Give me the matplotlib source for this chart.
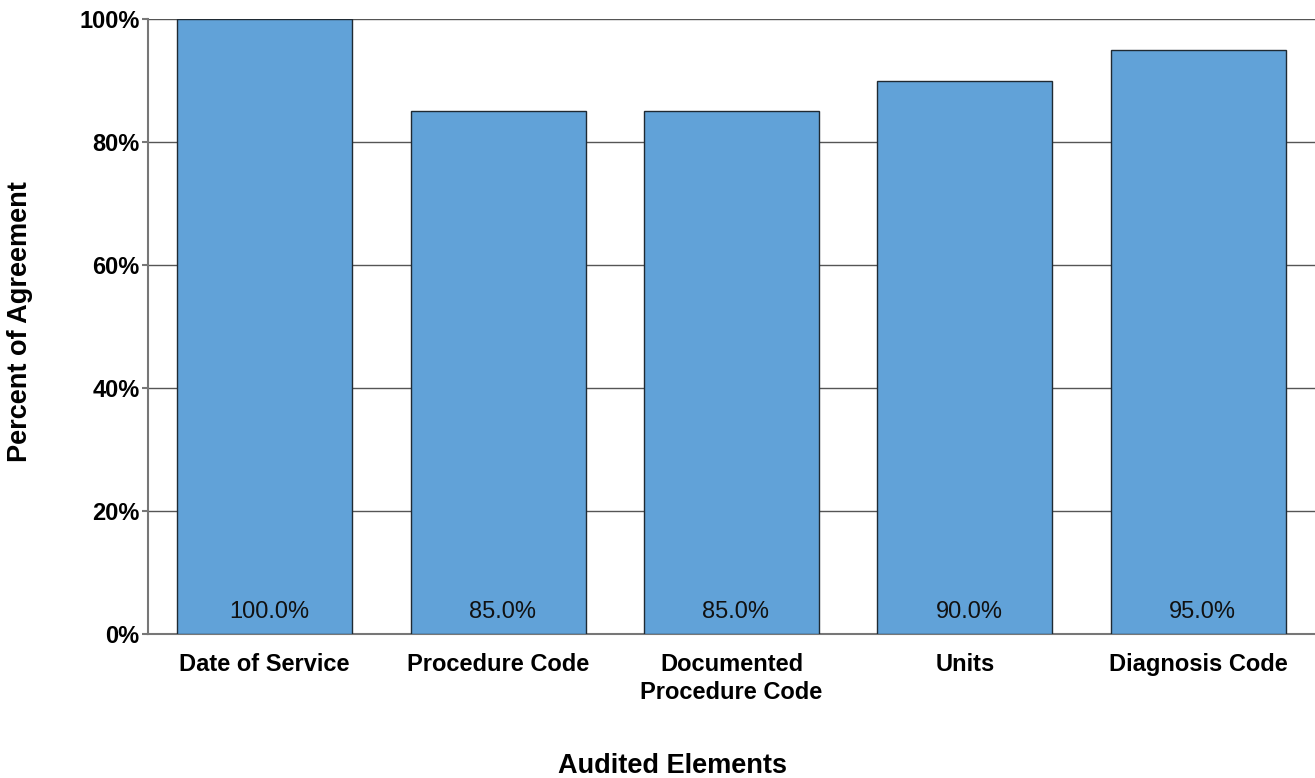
import matplotlib.pyplot as plt
import numpy as np

plt.rcParams['font.family'] = ['Liberation Sans', 'DejaVu Sans']

categories = ['Date of Service', 'Procedure Code', 'Documented\nProcedure Code', 'Units', 'Diagnosis Code']
agreement = [100.0, 85.0, 85.0, 90.0, 95.0]
yticks = [0, 20, 40, 60, 80, 100]

fig = plt.figure(figsize=(13.15, 7.78), dpi=100)
ax = fig.add_axes([148 / 1315, 1 - 634 / 778, 1 - 148 / 1315, (634 - 19) / 778])

x = np.arange(len(categories))
ax.bar(x, agreement, width=0.75, color='#61a2d8', edgecolor='#1f2a33', linewidth=1.0, zorder=3)
for xi, v in zip(x, agreement):
    ax.annotate('%.1f%%' % v, (xi, 0), xytext=(3, 16), textcoords='offset points',
                ha='center', va='center', fontsize=17, color='#111111', zorder=4)

ax.set_xlim(-0.5, len(categories) - 0.5)
ax.set_ylim(0, 100)
ax.set_yticks(yticks)
ax.set_yticklabels(['%d%%' % t for t in yticks], fontsize=17, fontweight='bold')
ax.set_xticks(x)
ax.set_xticklabels(categories, fontsize=17, fontweight='bold', va='top', linespacing=1.25)
ax.tick_params(axis='x', length=0, pad=14)
ax.tick_params(axis='y', length=4, width=1.5, color='#777777', pad=2)
ax.yaxis.grid(True, color='#555555', linewidth=1.0, zorder=0)

for s in ['top', 'right']:
    ax.spines[s].set_visible(False)
for s in ['left', 'bottom']:
    ax.spines[s].set_color('#777777')
    ax.spines[s].set_linewidth(1.5)

fig.text(672 / 1315, 1 - 766 / 778, 'Audited Elements', ha='center', va='center',
         fontsize=19.5, fontweight='bold')
fig.text(20 / 1315, 1 - 322 / 778, 'Percent of Agreement', ha='center', va='center',
         rotation=90, fontsize=19.5, fontweight='bold')

fig.savefig('out.png', dpi=100)
